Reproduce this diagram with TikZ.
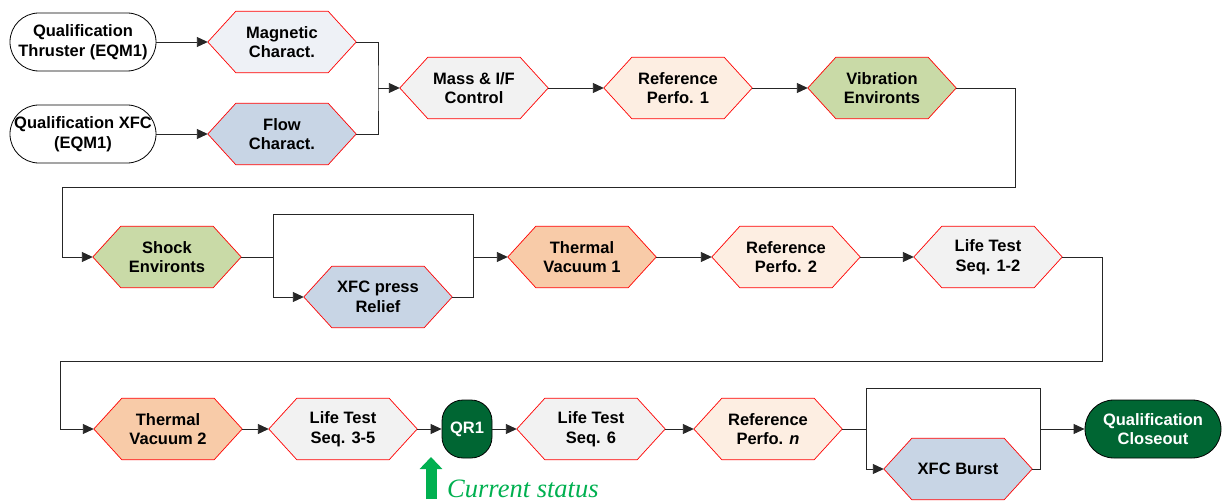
\documentclass[tikz,border=0pt]{standalone}
\usepackage{fontspec}
\setmainfont{Liberation Sans}
\newfontfamily\statusfont{Liberation Serif}
\usetikzlibrary{arrows.meta,backgrounds}

\definecolor{magfill}{HTML}{EEF1F6}
\definecolor{bluefill}{HTML}{C8D5E5}
\definecolor{greyfill}{HTML}{F2F2F2}
\definecolor{reffill}{HTML}{FDEEE2}
\definecolor{envfill}{HTML}{C9DAA7}
\definecolor{tvfill}{HTML}{F8CBA8}
\definecolor{qgreen}{HTML}{006633}
\definecolor{statusgreen}{HTML}{00B050}

\begin{document}
\begin{tikzpicture}[
  x=1pt, y=-1pt,
  font=\fontsize{16.5}{19.5}\selectfont\bfseries,
  every node/.style={align=center,inner sep=0pt},
  hexbox/.style={minimum width=148pt,minimum height=61pt},
  pill/.style={draw,line width=0.8pt,rounded corners=28.9pt,minimum width=146pt,minimum height=58pt},
  goal/.style={pill,fill=qgreen,text=white},
  link/.style={draw=black!85,line width=0.9pt},
  arr/.style={link,-{Triangle[length=11pt,width=10pt]}}
]
  \useasboundingbox (0,0) rectangle (1222,502);

  \node[pill] (thr) at (83,42) {Qualification\\Thruster (EQM1)};
  \node[pill] (xfcq) at (83,134) {Qualification XFC\\(EQM1)};
  \node[hexbox] (mag) at (282,42) {Magnetic\\Charact.};
  \node[hexbox] (flowc) at (282,134) {Flow\\Charact.};
  \node[hexbox] (mass) at (474,88) {Mass \& I/F\\Control};
  \node[hexbox] (ref1) at (678,88) {Reference\\Perfo. 1};
  \node[hexbox] (vib) at (882,88) {Vibration\\Environts};

  \node[hexbox] (shock) at (167,257) {Shock\\Environts};
  \node[hexbox] (xfcp) at (378,297) {XFC press\\Relief};
  \node[hexbox] (tv1) at (582,257) {Thermal\\Vacuum 1};
  \node[hexbox] (ref2) at (786,257) {Reference\\Perfo. 2};
  \node[hexbox] (lt12) at (988,257) {Life Test\\Seq. 1-2};

  \node[hexbox] (tv2) at (168,429) {Thermal\\Vacuum 2};
  \node[hexbox] (lt35) at (343,429) {Life Test\\Seq. 3-5};
  \node[goal,rounded corners=21pt,minimum width=50pt] (qr1) at (467,429) {QR1};
  \node[hexbox] (lt6) at (591,429) {Life Test\\Seq. 6};
  \node[hexbox] (refn) at (768,429) {Reference\\Perfo. \textit{n}};
  \node[hexbox] (burst) at (958,469) {XFC Burst};
  \node[goal,minimum width=136pt] (close) at (1153,429) {Qualification\\Closeout};

  \begin{scope}[on background layer]
    \foreach \n/\c in {mag/magfill,flowc/bluefill,mass/greyfill,ref1/reffill,vib/envfill,
                       shock/envfill,xfcp/bluefill,tv1/tvfill,ref2/reffill,lt12/greyfill,
                       tv2/tvfill,lt35/greyfill,lt6/greyfill,refn/reffill,burst/bluefill}
      \filldraw[draw=red,line width=0.7pt,fill=\c]
        (\n.west) -- ([xshift=28pt]\n.north west) -- ([xshift=-28pt]\n.north east)
        -- (\n.east) -- ([xshift=-28pt]\n.south east) -- ([xshift=28pt]\n.south west) -- cycle;
  \end{scope}

  \coordinate (j1) at (378,88);
  \coordinate (w1) at (1015,187);
  \coordinate (w2) at (62,187);
  \coordinate (f1) at (273,257);
  \coordinate (f1t) at (273,214);
  \coordinate (f2t) at (473,214);
  \coordinate (f2) at (473,257);
  \coordinate (w3) at (1102,361);
  \coordinate (w4) at (60,361);
  \coordinate (f3) at (866,429);
  \coordinate (f3t) at (866,388);
  \coordinate (f4t) at (1040,388);
  \coordinate (f4) at (1040,429);
  \coordinate (stail) at (431,499);
  \coordinate (stip) at (431,457);

  \draw[arr] (thr.east) -- (mag.west);
  \draw[arr] (xfcq.east) -- (flowc.west);
  \draw[link] (mag.east) -| (j1) |- (flowc.east);
  \draw[arr] (j1) -- (mass.west);
  \draw[arr] (mass.east) -- (ref1.west);
  \draw[arr] (ref1.east) -- (vib.west);
  \draw[arr] (vib.east) -| (w1) -- (w2) |- (shock.west);

  \draw[link] (shock.east) -- (f1) -- (f1t) -- (f2t) -- (f2);
  \draw[arr] (f1) |- (xfcp.west);
  \draw[link] (xfcp.east) -| (f2);
  \draw[arr] (f2) -- (tv1.west);
  \draw[arr] (tv1.east) -- (ref2.west);
  \draw[arr] (ref2.east) -- (lt12.west);
  \draw[arr] (lt12.east) -| (w3) -- (w4) |- (tv2.west);

  \draw[arr] (tv2.east) -- (lt35.west);
  \draw[arr] (lt35.east) -- (qr1.west);
  \draw[arr] (qr1.east) -- (lt6.west);
  \draw[arr] (lt6.east) -- (refn.west);
  \draw[link] (refn.east) -- (f3) -- (f3t) -- (f4t) -- (f4);
  \draw[arr] (f3) |- (burst.west);
  \draw[link] (burst.east) -| (f4);
  \draw[arr] (f4) -- (close.west);

  \draw[statusgreen,line width=11pt,-{Triangle[length=12pt,width=22pt]}] (stail) -- (stip);
  \node[anchor=base west,text=statusgreen,font=\statusfont\itshape\mdseries\fontsize{26.5}{30}\selectfont]
    (status) at (447,497) {Current status};
\end{tikzpicture}
\end{document}
